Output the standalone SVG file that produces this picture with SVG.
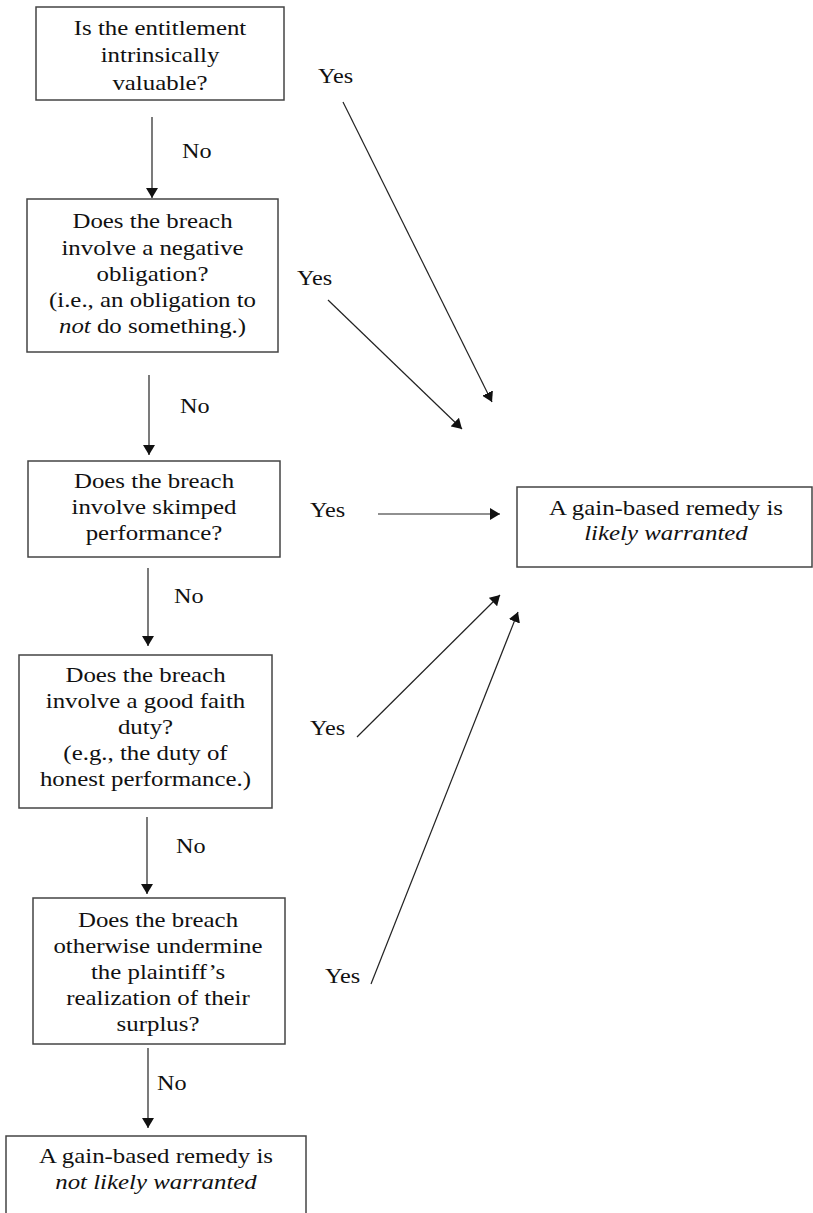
<svg xmlns="http://www.w3.org/2000/svg" width="813" height="1213" viewBox="0 0 813 1213">
<style>
.box{fill:#fff;stroke:#444;stroke-width:1.5}
.t{font-family:"Liberation Serif","Times New Roman",serif;font-size:22px;fill:#111;text-anchor:middle}
.l{font-family:"Liberation Serif","Times New Roman",serif;font-size:22px;fill:#111}
.c{stroke:#222;stroke-width:1.2;fill:none;marker-end:url(#ah)}
.i{font-style:italic}
</style>
<defs>
<marker id="ah" viewBox="0 0 10 12" markerWidth="10" markerHeight="12" refX="10" refY="6" orient="auto" markerUnits="userSpaceOnUse">
<path d="M0,0 L10,6 L0,12 Z" fill="#111"/>
</marker>
</defs>
<g id="n1">
<rect class="box" x="36" y="7" width="248" height="93"/>
<g transform="translate(160 0) scale(1.13 1)">
<text class="t" x="0" y="35">Is the entitlement</text>
<text class="t" x="0" y="62">intrinsically</text>
<text class="t" x="0" y="90">valuable?</text>
</g>
</g>
<g id="n2">
<rect class="box" x="27" y="199" width="251" height="153"/>
<g transform="translate(152.5 0) scale(1.13 1)">
<text class="t" x="0" y="228">Does the breach</text>
<text class="t" x="0" y="255">involve a negative</text>
<text class="t" x="0" y="281">obligation?</text>
<text class="t" x="0" y="307">(i.e., an obligation to</text>
<text class="t" x="0" y="333"><tspan class="i">not</tspan> do something.)</text>
</g>
</g>
<g id="n3">
<rect class="box" x="28" y="461" width="252" height="96"/>
<g transform="translate(154 0) scale(1.13 1)">
<text class="t" x="0" y="488">Does the breach</text>
<text class="t" x="0" y="514">involve skimped</text>
<text class="t" x="0" y="540">performance?</text>
</g>
</g>
<g id="yes-box">
<rect class="box" x="517" y="487" width="295" height="80"/>
<g transform="translate(666 0) scale(1.13 1)">
<text class="t" x="0" y="515">A gain-based remedy is</text>
<text class="t i" x="0" y="540">likely warranted</text>
</g>
</g>
<g id="n4">
<rect class="box" x="19" y="655" width="253" height="153"/>
<g transform="translate(145.5 0) scale(1.13 1)">
<text class="t" x="0" y="682">Does the breach</text>
<text class="t" x="0" y="708">involve a good faith</text>
<text class="t" x="0" y="734">duty?</text>
<text class="t" x="0" y="760">(e.g., the duty of</text>
<text class="t" x="0" y="786">honest performance.)</text>
</g>
</g>
<g id="n5">
<rect class="box" x="33" y="898" width="252" height="146"/>
<g transform="translate(158 0) scale(1.13 1)">
<text class="t" x="0" y="927">Does the breach</text>
<text class="t" x="0" y="953">otherwise undermine</text>
<text class="t" x="0" y="979">the plaintiff’s</text>
<text class="t" x="0" y="1005">realization of their</text>
<text class="t" x="0" y="1031">surplus?</text>
</g>
</g>
<g id="no-box">
<rect class="box" x="6" y="1136" width="300" height="82"/>
<g transform="translate(156 0) scale(1.13 1)">
<text class="t" x="0" y="1163">A gain-based remedy is</text>
<text class="t i" x="0" y="1189">not likely warranted</text>
</g>
</g>
<g id="connectors">
<line class="c" x1="152" y1="117" x2="152" y2="198"/>
<line class="c" x1="149" y1="375" x2="149" y2="455"/>
<line class="c" x1="148" y1="568" x2="148" y2="646"/>
<line class="c" x1="147" y1="817" x2="147" y2="894"/>
<line class="c" x1="148" y1="1048" x2="148" y2="1128"/>
<line class="c" x1="343" y1="102" x2="492" y2="402"/>
<line class="c" x1="328" y1="300" x2="462" y2="429"/>
<line class="c" x1="378" y1="514" x2="500" y2="514"/>
<line class="c" x1="357" y1="737" x2="500" y2="595"/>
<line class="c" x1="371" y1="984" x2="518" y2="612"/>
</g>
<g id="labels">
<text class="l" transform="translate(318 83) scale(1.1 1)">Yes</text>
<text class="l" transform="translate(182 158) scale(1.1 1)">No</text>
<text class="l" transform="translate(297 285) scale(1.1 1)">Yes</text>
<text class="l" transform="translate(180 413) scale(1.1 1)">No</text>
<text class="l" transform="translate(310 517) scale(1.1 1)">Yes</text>
<text class="l" transform="translate(174 603) scale(1.1 1)">No</text>
<text class="l" transform="translate(310 735) scale(1.1 1)">Yes</text>
<text class="l" transform="translate(176 853) scale(1.1 1)">No</text>
<text class="l" transform="translate(325 983) scale(1.1 1)">Yes</text>
<text class="l" transform="translate(157 1090) scale(1.1 1)">No</text>
</g>
</svg>
